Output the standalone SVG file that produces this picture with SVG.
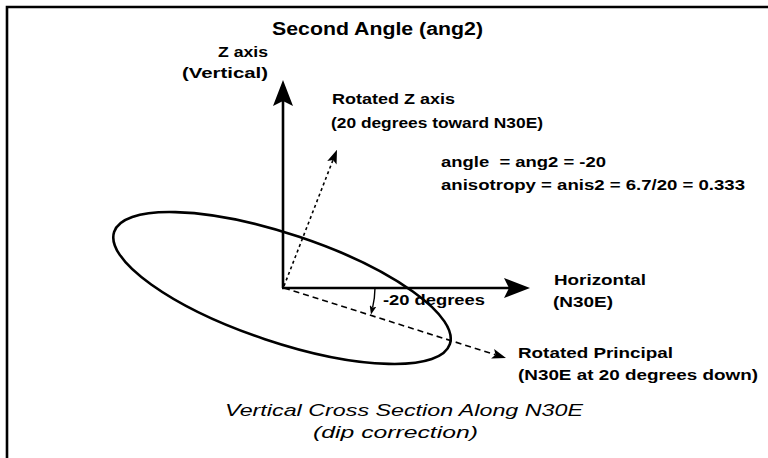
<svg xmlns="http://www.w3.org/2000/svg" width="768" height="458" viewBox="0 0 768 458">
<style>
.t{font-family:"Liberation Sans",Arial,sans-serif;font-weight:bold;font-size:15px;fill:#000}
.ti{font-family:"Liberation Sans",Arial,sans-serif;font-style:italic;font-size:17px;fill:#000}
.ax{stroke:#000;stroke-width:2.6;fill:none}
.dot{stroke:#000;stroke-width:1.6;fill:none;stroke-dasharray:3 3}
.dash{stroke:#000;stroke-width:1.6;fill:none;stroke-dasharray:6 4}
</style>
<defs>
<marker id="big" viewBox="0 0 26 20" refX="5" refY="10" markerWidth="26" markerHeight="20" markerUnits="userSpaceOnUse" orient="auto">
<path d="M0,0 L26,10 L0,20 L5,10 Z" fill="#000"/>
</marker>
<marker id="sm" viewBox="0 0 14 10" refX="3" refY="5" markerWidth="14" markerHeight="10" markerUnits="userSpaceOnUse" orient="auto">
<path d="M0,0 L14,5 L0,10 L3,5 Z" fill="#000"/>
</marker>
<marker id="tiny" viewBox="0 0 9 7" refX="2" refY="3.5" markerWidth="9" markerHeight="7" markerUnits="userSpaceOnUse" orient="auto">
<path d="M0,0 L9,3.5 L0,7 L2,3.5 Z" fill="#000"/>
</marker>
</defs>
<rect width="768" height="458" fill="#fff"/>
<g id="frame">
<path d="M7,458 V7 H768" stroke="#000" stroke-width="2.6" fill="none"/>
</g>
<g id="title">
<text class="t" x="272" y="35" font-size="18" style="font-size:18px" textLength="211" lengthAdjust="spacingAndGlyphs">Second Angle (ang2)</text>
</g>
<g id="ellipse">
<ellipse cx="282" cy="288" rx="177" ry="54" transform="rotate(18.5 282 288)" stroke="#000" stroke-width="2.6" fill="none"/>
</g>
<g id="connectors">
<line class="ax" x1="283" y1="288" x2="283" y2="101" marker-end="url(#big)"/>
<line class="ax" x1="282" y1="288" x2="509" y2="288" marker-end="url(#big)"/>
<line class="dot" x1="284" y1="286" x2="333" y2="160" marker-end="url(#sm)"/>
<line class="dash" x1="284" y1="288" x2="495.5" y2="354.7" marker-end="url(#sm)"/>
<path d="M375,288 A92,92 0 0 1 372.6,307.7" stroke="#000" stroke-width="1.4" fill="none" marker-end="url(#tiny)"/>
</g>
<g id="z-axis">
<text class="t" x="218" y="57" textLength="50" lengthAdjust="spacingAndGlyphs">Z axis</text>
<text class="t" x="182" y="78" textLength="86" lengthAdjust="spacingAndGlyphs">(Vertical)</text>
</g>
<g id="rotated-z">
<text class="t" x="332" y="104" textLength="123" lengthAdjust="spacingAndGlyphs">Rotated Z axis</text>
<text class="t" x="331" y="128" textLength="212" lengthAdjust="spacingAndGlyphs">(20 degrees toward N30E)</text>
</g>
<g id="params">
<text class="t" x="441" y="167" textLength="165" lengthAdjust="spacingAndGlyphs" xml:space="preserve">angle  = ang2 = -20</text>
<text class="t" x="441" y="190" textLength="304" lengthAdjust="spacingAndGlyphs">anisotropy = anis2 = 6.7/20 = 0.333</text>
</g>
<g id="horizontal">
<text class="t" x="554" y="285" textLength="92" lengthAdjust="spacingAndGlyphs">Horizontal</text>
<text class="t" x="553" y="307" textLength="60" lengthAdjust="spacingAndGlyphs">(N30E)</text>
</g>
<g id="angle-label">
<text class="t" x="383" y="305" textLength="102" lengthAdjust="spacingAndGlyphs">-20 degrees</text>
</g>
<g id="rotated-principal">
<text class="t" x="518" y="358" textLength="155" lengthAdjust="spacingAndGlyphs">Rotated Principal</text>
<text class="t" x="518" y="380" textLength="240" lengthAdjust="spacingAndGlyphs">(N30E at 20 degrees down)</text>
</g>
<g id="caption">
<text class="ti" x="225" y="416" textLength="358" lengthAdjust="spacingAndGlyphs">Vertical Cross Section Along N30E</text>
<text class="ti" x="313" y="438" textLength="165" lengthAdjust="spacingAndGlyphs">(dip correction)</text>
</g>
</svg>
